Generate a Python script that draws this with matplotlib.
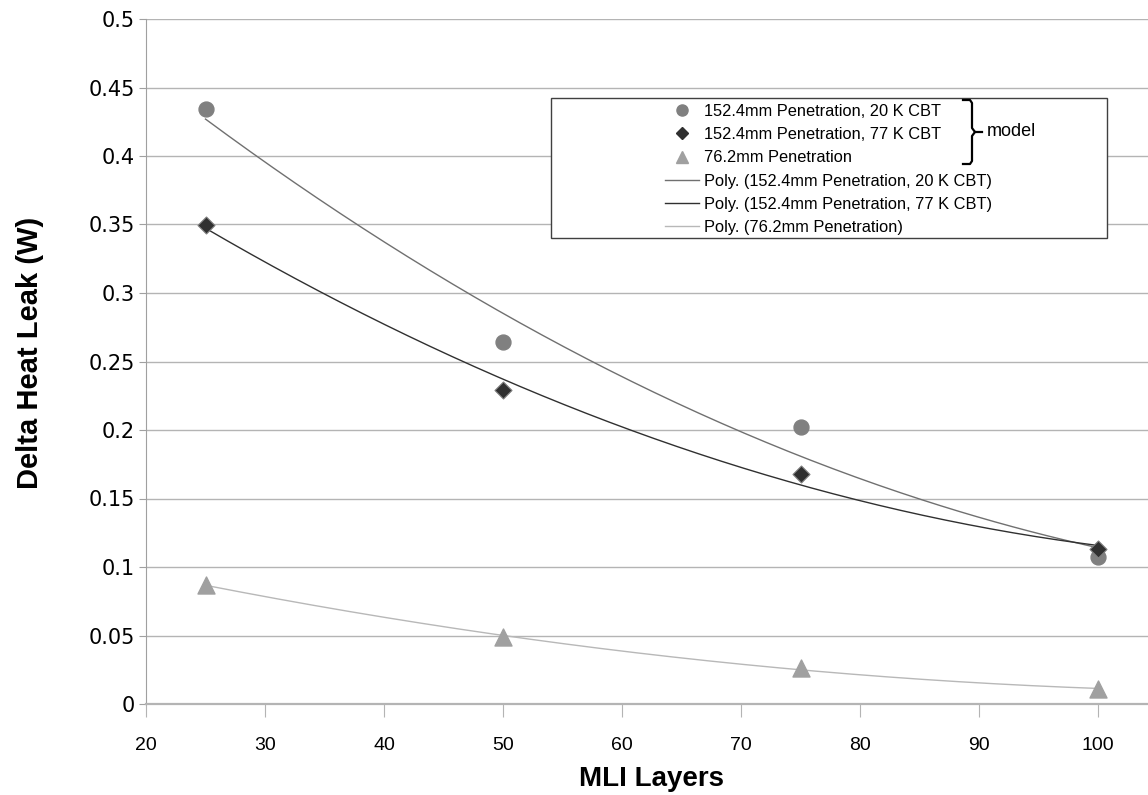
import numpy as np
import matplotlib
matplotlib.use("Agg")
import matplotlib.pyplot as plt
from matplotlib.lines import Line2D
from matplotlib.patches import Rectangle

# data
layers = [25, 50, 75, 100]
pen152_20k = [0.434, 0.264, 0.202, 0.107]
pen152_77k = [0.350, 0.229, 0.168, 0.113]
pen76 = [0.087, 0.049, 0.026, 0.011]

labels = ["152.4mm Penetration, 20 K CBT",
          "152.4mm Penetration, 77 K CBT",
          "76.2mm Penetration"]

plt.rcParams['font.family'] = ['Liberation Sans', 'DejaVu Sans']

W, H = 1148, 795
fig = plt.figure(figsize=(W / 100, H / 100), dpi=100)
ax = fig.add_axes([146 / W, 1 - 704 / H, (W - 146) / W, (704 - 19) / H])

# 2nd order polynomial trendlines (like Excel "Poly.")
xx = np.linspace(25, 100, 200)
fit_colors = ["#707070", "#303030", "#b8b8b8"]
series = [pen152_20k, pen152_77k, pen76]
for ys, c in zip(series, fit_colors):
    p = np.polyfit(layers, ys, 2)
    ax.plot(xx, np.polyval(p, xx), color=c, lw=1.0, zorder=3)

ax.scatter(layers, pen152_20k, marker='o', s=115, color='#808080', zorder=4)
ax.scatter(layers, pen152_77k, marker='D', s=75, color='#303030',
           edgecolor='#808080', linewidth=0.8, zorder=4)
ax.scatter(layers, pen76, marker='^', s=150, color='#a0a0a0', zorder=4)

ax.set_xlim(20, 104.2)
ax.set_ylim(0, 0.5)
ax.set_xticks(range(20, 101, 10))
ax.set_yticks(np.arange(0, 0.501, 0.05))
ax.set_yticklabels(["0", "0.05", "0.1", "0.15", "0.2", "0.25", "0.3",
                    "0.35", "0.4", "0.45", "0.5"], family='DejaVu Sans')
ax.grid(axis='y', color='#b4b4b4', lw=1.0)
ax.set_axisbelow(True)
for s in ['top', 'right']:
    ax.spines[s].set_visible(False)
ax.spines['left'].set_color('#a0a0a0')
ax.spines['bottom'].set_color('#b4b4b4')
ax.spines['bottom'].set_linewidth(1.6)
ax.tick_params(axis='x', direction='out', length=9, color='#b4b4b4',
               labelsize=14, pad=15)
ax.tick_params(axis='y', direction='out', length=5, color='#a0a0a0',
               labelsize=15, pad=3)
ax.set_xlabel("MLI Layers", fontsize=20, fontweight='bold', va='center')
ax.set_ylabel("Delta Heat Leak (W)", fontsize=21, fontweight='bold',
              va='center')
ax.xaxis.set_label_coords(0.504, -0.109)
ax.yaxis.set_label_coords(-0.116, 0.512)

# legend box
fig.patches.append(Rectangle((551 / W, 1 - 238 / H), 556 / W, 140 / H,
                             transform=fig.transFigure, facecolor='white',
                             edgecolor='#404040', lw=1.0, zorder=5))
handles = [
    Line2D([], [], ls='', marker='o', ms=8, color='#808080'),
    Line2D([], [], ls='', marker='D', ms=6, color='#303030'),
    Line2D([], [], ls='', marker='^', ms=8, color='#a0a0a0'),
    Line2D([], [], color=fit_colors[0], lw=1.0),
    Line2D([], [], color=fit_colors[1], lw=1.0),
    Line2D([], [], color=fit_colors[2], lw=1.0),
]
leg_labels = labels + ["Poly. (%s)" % l for l in labels]
leg = fig.legend(handles, leg_labels, loc='upper left',
                 bbox_to_anchor=(665 / W, 1 - 104 / H), frameon=False,
                 fontsize=11.8, handlelength=2.05, handletextpad=0.35,
                 labelspacing=0.5, borderpad=0.0, borderaxespad=0.0)
leg.set_zorder(6)

# brace marking the model series
top = [(963, 100), (970, 100), (972, 103), (972, 128), (975, 132), (982, 132)]
bot = [(975, 132), (972, 136), (972, 161), (970, 164), (963, 164)]
for seg in (top, bot):
    fig.add_artist(Line2D([p[0] / W for p in seg], [1 - p[1] / H for p in seg],
                          color='black', lw=1.6, zorder=7))
fig.text(987 / W, 1 - 132 / H, "model", fontsize=13, va='center', zorder=7)

fig.savefig("out.png", dpi=100)
